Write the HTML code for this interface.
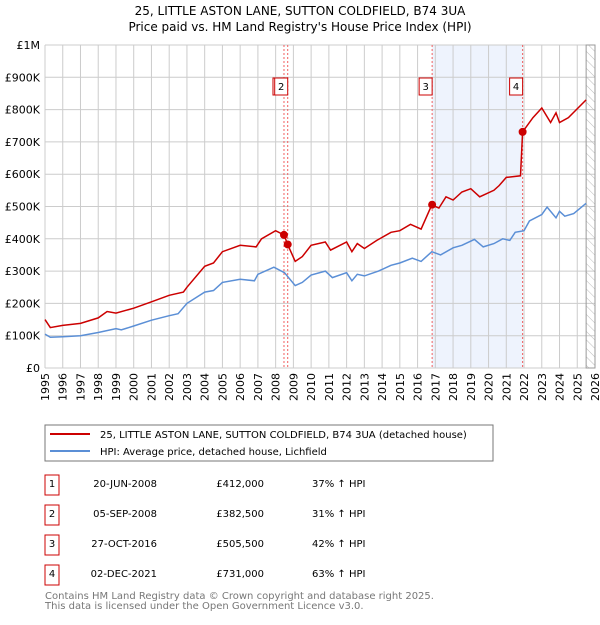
<!DOCTYPE html>
<html><head><meta charset="utf-8"><style>
body{margin:0;background:#fff;font-family:"Liberation Sans","DejaVu Sans",sans-serif;}
svg text{font-family:"DejaVu Sans","Liberation Sans",sans-serif;}
</style></head><body>
<svg id="c" width="600" height="620" xmlns="http://www.w3.org/2000/svg">
<text x="300" y="15" text-anchor="middle" font-size="12">25, LITTLE ASTON LANE, SUTTON COLDFIELD, B74 3UA</text>
<text x="300" y="31" text-anchor="middle" font-size="12">Price paid vs. HM Land Registry's House Price Index (HPI)</text>
<g id="plot"></g>
<rect x="45" y="425" width="448" height="36" fill="#fff" stroke="#777"/>
<line x1="50" y1="434" x2="90" y2="434" stroke="#cc0000" stroke-width="2"/>
<text x="100" y="438" font-size="10">25, LITTLE ASTON LANE, SUTTON COLDFIELD, B74 3UA (detached house)</text>
<line x1="50" y1="451" x2="90" y2="451" stroke="#5b8fd6" stroke-width="2"/>
<text x="100" y="455" font-size="10">HPI: Average price, detached house, Lichfield</text>
<g id="tbl" font-size="10"></g>
<text x="45" y="599" font-size="10" fill="#777">Contains HM Land Registry data © Crown copyright and database right 2025.</text>
<text x="45" y="609" font-size="10" fill="#777">This data is licensed under the Open Government Licence v3.0.</text>
</svg>
<script>
const hpiT=[1995,1995.3,1996,1997,1998,1999,1999.3,2000,2001,2002,2002.5,2003,2004,2004.5,2005,2006,2006.8,2007,2007.9,2008.5,2009.1,2009.5,2010,2010.8,2011.2,2012,2012.3,2012.6,2013,2013.8,2014.5,2015,2015.7,2016.2,2016.8,2017.3,2018,2018.5,2019.2,2019.7,2020.3,2020.8,2021.2,2021.5,2022,2022.3,2023,2023.3,2023.8,2024,2024.3,2024.8,2025.5];
const hpiV=[105,95,97,100,110,122,118,130,148,162,168,200,235,240,265,275,270,290,312,295,255,265,288,300,280,295,270,290,285,300,318,325,340,330,360,350,372,380,398,375,385,400,395,420,425,455,475,498,465,485,470,478,510];
const ppT=[1995,1995.3,1996,1997,1998,1998.5,1999,2000,2001,2002,2002.8,2003,2004,2004.5,2005,2006,2006.9,2007.2,2008,2008.47,2008.68,2009.1,2009.5,2010,2010.8,2011.1,2012,2012.3,2012.6,2013,2013.7,2014.5,2015,2015.6,2016.2,2016.8,2017.2,2017.6,2018,2018.5,2019,2019.5,2020.3,2020.6,2021,2021.8,2021.92,2022.5,2023,2023.5,2023.8,2024,2024.5,2025.5];
const ppV=[150,125,132,138,155,175,170,185,205,225,235,250,315,325,360,380,375,400,425,412,382,330,345,380,390,365,390,360,385,370,395,420,425,445,430,505,495,530,520,545,555,530,550,565,590,595,731,775,805,760,790,760,775,830];
const saleT=[2008.47,2008.68,2016.82,2021.92];
const saleV=[412,382.5,505.5,731];
const saleLabels=["1","2","3","4"];
const saleDates=["20-JUN-2008","05-SEP-2008","27-OCT-2016","02-DEC-2021"];
const salePrices=["£412,000","£382,500","£505,500","£731,000"];
const salePct=["37% ↑ HPI","31% ↑ HPI","42% ↑ HPI","63% ↑ HPI"];
const yTicks=[0,100,200,300,400,500,600,700,800,900,1000];
const yLabels=["£0","£100K","£200K","£300K","£400K","£500K","£600K","£700K","£800K","£900K","£1M"];
const NS="http://www.w3.org/2000/svg";
const X0=45,X1=595,Y0=368,Y1=45;
const x=t=>X0+(t-1995)*(X1-X0)/31;
const y=v=>Y0-v*(Y0-Y1)/1000;
const g=document.getElementById('plot');
function mk(tag,a,p){const e=document.createElementNS(NS,tag);for(const k in a)e.setAttribute(k,a[k]);(p||g).appendChild(e);return e;}
let e;
e=mk('rect',{x:x(saleT[2]),y:Y1,width:x(saleT[3])-x(saleT[2]),height:Y0-Y1,fill:'#eef3fd'});


for(let yr=1995;yr<=2026;yr++){
 e=mk('line',{x1:x(yr),x2:x(yr),y1:Y1,y2:Y0,stroke:'#ccc'});
 
 
 e=mk('text',{x:0,y:0,'text-anchor':'end','font-size':11,transform:'translate('+(x(yr)+4)+',373) rotate(-90)'});e.textContent=yr;
 
 
}
yTicks.forEach((v,i)=>{
 e=mk('line',{x1:X0,x2:X1,y1:y(v),y2:y(v),stroke:'#ccc'});
 
 
 e=mk('text',{x:40,y:y(v)+4,'text-anchor':'end','font-size':11});e.textContent=yLabels[i];
 
 
});
const defs=mk('defs',{});
const pat=mk('pattern',{id:'h',width:6,height:6,patternUnits:'userSpaceOnUse',patternTransform:'rotate(-45)'},defs);
mk('line',{x1:0,y1:0,x2:0,y2:6,stroke:'#bbb'},pat);
e=mk('rect',{x:x(2025.5),y:Y1,width:X1-x(2025.5),height:Y0-Y1,fill:'url(#h)',stroke:'#999'});


saleT.forEach((t,i)=>{
 e=mk('line',{x1:x(t),x2:x(t),y1:Y1,y2:Y0,stroke:'#f06060','stroke-dasharray':'2,2'});
 
 
 const bx=x(t)-(i==0?11:13);
 e=mk('rect',{x:bx,y:78,width:13,height:17,fill:'#fff',stroke:'#cc0000'});
 
 
 e=mk('text',{x:bx+6.5,y:90,'text-anchor':'middle','font-size':10});e.textContent=saleLabels[i];
 
 
});
function line(T,V,c,n){const d=T.map((t,i)=>(i?'L':'M')+x(t).toFixed(1)+','+y(V[i]).toFixed(1)).join('');
 const p=mk('path',{d:d,fill:'none',stroke:c,'stroke-width':1.5});
 
 }
line(hpiT,hpiV,'#5b8fd6','hpi-line');
line(ppT,ppV,'#cc0000','price-paid-line');
saleT.forEach((t,i)=>{
 e=mk('circle',{cx:x(t),cy:y(saleV[i]),r:4,fill:'#cc0000'});
 
 
});
const tb=document.getElementById('tbl');
saleLabels.forEach((l,i)=>{
 const yy=487+i*30;
 e=mk('rect',{x:45,y:yy-12,width:14,height:20,fill:'#fff',stroke:'#cc0000'},tb);
 
 
 e=mk('text',{x:52,y:yy,'text-anchor':'middle'},tb);e.textContent=l;
 
 
 e=mk('text',{x:157,y:yy,'text-anchor':'end'},tb);e.textContent=saleDates[i];
 
 
 e=mk('text',{x:264,y:yy,'text-anchor':'end'},tb);e.textContent=salePrices[i];
 
 
 e=mk('text',{x:312,y:yy},tb);e.textContent=salePct[i];
 
 
});
</script>
</body></html>
